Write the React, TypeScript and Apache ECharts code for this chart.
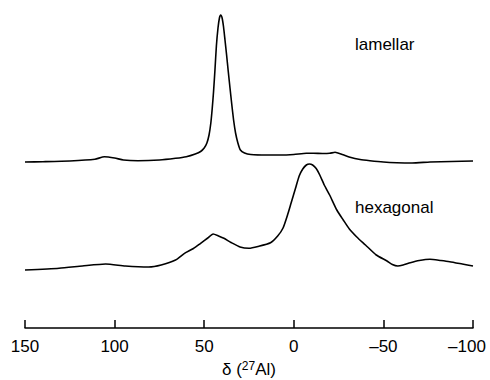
import React, { useEffect, useRef } from "react";
import * as echarts from "echarts";

// Chemical shift (ppm) and displayed intensity (arbitrary units, offset stacked)
const lamellarShift = [150, 140, 125, 111, 105.7, 100, 95, 87, 75, 66, 60, 55, 52, 50, 48.5, 47.3, 46.3, 45.5, 44.8, 44, 43.2, 42.3, 41.5, 40.8, 40, 39.2, 38.4, 37.5, 36.6, 35.6, 34.7, 33.6, 32.5, 31.2, 29.8, 27.5, 24, 15, 8, 0, -7, -11, -16, -20, -23, -27, -31.4, -37, -42.5, -50, -57.4, -66, -76, -88, -100];
const lamellarValue = [166, 166.3, 167, 168.7, 171.3, 170, 168, 167.3, 168, 169.7, 171.3, 174, 176.5, 180, 185, 193, 205, 220, 236, 258, 282, 300, 310, 313, 310, 301, 288, 273, 257, 240, 225, 208, 195, 185, 178, 175, 173.5, 173, 173, 173.5, 174.7, 174.7, 174.5, 174.7, 175.7, 173.5, 170.7, 168.5, 167.3, 166, 165.3, 165, 166, 166.5, 167];

const hexagonalShift = [150, 131, 118, 105, 94, 81, 74, 66, 61, 56, 52, 48, 45, 42, 39, 35, 30, 25, 20, 13, 9, 6, 3.5, 1.5, -1, -3, -5, -7, -8.7, -10.5, -12.5, -14.5, -17, -20, -24, -27.6, -31, -35, -40, -46, -52, -55, -58, -61, -65, -70, -76, -82, -87, -94, -100];
const hexagonalValue = [58, 59.7, 62, 64, 62, 61, 63, 68, 74.7, 79.5, 84.7, 90, 94, 92, 89.7, 85.5, 81, 79.7, 81.5, 85.3, 92, 100, 113, 125, 140, 152, 159, 163, 164, 163, 159.5, 153, 143, 133, 118, 108, 99, 91.3, 83, 73, 67, 63.5, 62, 63, 65.3, 67.5, 68.7, 67.5, 66.3, 64, 62];

const xMin = -100;
const xMax = 150;
const xInterval = 50;

const labels = ["lamellar", "hexagonal"];

const FONT = "'Liberation Sans', Arial, Helvetica, sans-serif";

export default function App() {
  const ref = useRef<HTMLDivElement>(null);
  useEffect(() => {
    if (!ref.current) return;
    const chart = echarts.init(ref.current, null, { renderer: "svg" });
    const toPairs = (xs: number[], ys: number[]) => xs.map((x, i) => [x, ys[i]]);
    chart.setOption({
      animation: false,
      backgroundColor: "#ffffff",
      grid: { left: 25, right: 17, top: 8, bottom: 52, containLabel: false, outerBoundsMode: "none" },
      xAxis: {
        type: "value",
        min: xMin,
        max: xMax,
        interval: xInterval,
        inverse: true,
        axisLine: { show: true, lineStyle: { color: "#000", width: 1.5 } },
        axisTick: { show: true, inside: true, length: 8, lineStyle: { color: "#000", width: 1.5 } },
        splitLine: { show: false },
        axisLabel: {
          color: "#000",
          fontSize: 17,
          fontFamily: FONT,
          margin: 10,
          formatter: (v: number) =>
            v === xMin ? "{e|\u2013" + Math.abs(v) + "}" : v < 0 ? "\u2013" + Math.abs(v) : String(v),
          rich: {
            e: { fontSize: 17, fontFamily: FONT, color: "#000", padding: [0, 12, 0, 0] },
          },
        },
        name: "{d|δ (}{s|27}{d|Al)}",
        nameLocation: "middle",
        nameGap: 29,
        nameTextStyle: {
          rich: {
            d: { fontSize: 17, fontFamily: FONT, color: "#000", lineHeight: 20 },
            s: { fontSize: 12, fontFamily: FONT, color: "#000", verticalAlign: "top", lineHeight: 20, padding: [0, 0, 6, 0] },
          },
        },
      },
      yAxis: {
        type: "value",
        min: 0,
        max: 320,
        show: false,
      },
      series: [
        {
          type: "line",
          name: labels[0],
          data: toPairs(lamellarShift, lamellarValue),
          showSymbol: false,
          smooth: 0.2,
          lineStyle: { color: "#000", width: 1.6 },
        },
        {
          type: "line",
          name: labels[1],
          data: toPairs(hexagonalShift, hexagonalValue),
          showSymbol: false,
          smooth: 0.2,
          lineStyle: { color: "#000", width: 1.6 },
        },
      ],
      graphic: [
        {
          type: "text",
          left: 355,
          top: 36,
          style: { text: labels[0], fontSize: 17, fontFamily: FONT, fill: "#000" },
        },
        {
          type: "text",
          left: 355,
          top: 199,
          style: { text: labels[1], fontSize: 17, fontFamily: FONT, fill: "#000" },
        },
      ],
    });
    return () => chart.dispose();
  }, []);
  return <div ref={ref} style={{ width: 490, height: 380, position: "absolute", left: 0, top: 0 }} />;
}
